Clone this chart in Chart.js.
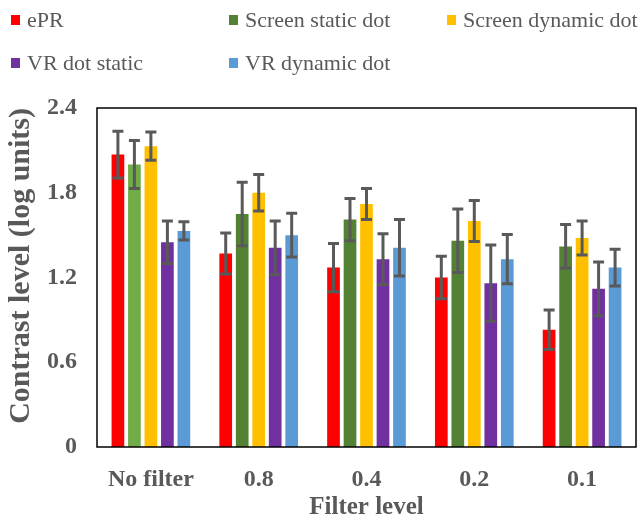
<!DOCTYPE html>
<html>
<head>
<meta charset="utf-8">
<script src="https://cdn.jsdelivr.net/npm/chart.js@4.4.1/dist/chart.umd.min.js"></script>
<style>
  html, body { margin: 0; padding: 0; background: #fff; }
  #wrap { position: relative; width: 642px; height: 518px; }
  canvas { position: absolute; left: 0; top: 0; }
  .lg { position: absolute; font-family: "Liberation Serif", "Times New Roman", serif; font-size: 22px; color: #595959; white-space: nowrap; line-height: 22px; }
  .sw { position: absolute; width: 9px; height: 10px; }
</style>
</head>
<body>
<div id="wrap">
  <canvas id="c" width="642" height="518"></canvas>
</div>
<script>
// ---- data ----
const categories = ["No filter", "0.8", "0.4", "0.2", "0.1"];
const seriesNames = ["ePR", "Screen static dot", "Screen dynamic dot", "VR dot static", "VR dynamic dot"];
const ePR = [2.07, 1.37, 1.27, 1.20, 0.83];
const screenStatic = [2.00, 1.65, 1.61, 1.46, 1.42];
const screenDynamic = [2.13, 1.80, 1.72, 1.60, 1.48];
const vrStatic = [1.45, 1.41, 1.33, 1.16, 1.12];
const vrDynamic = [1.53, 1.50, 1.41, 1.33, 1.27];
const ePRErr = [0.165, 0.145, 0.17, 0.15, 0.14];
const screenStaticErr = [0.17, 0.225, 0.15, 0.225, 0.155];
const screenDynamicErr = [0.10, 0.13, 0.11, 0.145, 0.12];
const vrStaticErr = [0.15, 0.19, 0.18, 0.27, 0.19];
const vrDynamicErr = [0.065, 0.155, 0.20, 0.175, 0.13];
const yTickLabels = ["0", "0.6", "1.2", "1.8", "2.4"];

const seriesValues = [ePR, screenStatic, screenDynamic, vrStatic, vrDynamic];
const seriesErrors = [ePRErr, screenStaticErr, screenDynamicErr, vrStaticErr, vrDynamicErr];
const legendColors = ["#FF0000", "#548235", "#FFC000", "#7030A0", "#5B9BD5"];
const barColors = [
  "#FF0000",
  ["#70AD47", "#548235", "#548235", "#548235", "#548235"],
  "#FFC000",
  "#7030A0",
  "#5B9BD5"
];

// ---- HTML legend ----
const wrap = document.getElementById('wrap');
const legendPos = [[10, 10], [228, 10], [446, 10], [10, 53], [228, 53]];
seriesNames.forEach((name, i) => {
  const [x, y] = legendPos[i];
  const sw = document.createElement('div');
  sw.className = 'sw';
  sw.style.left = (x + 1) + 'px';
  sw.style.top = (y + 5) + 'px';
  sw.style.background = legendColors[i];
  wrap.appendChild(sw);
  const t = document.createElement('div');
  t.className = 'lg';
  t.style.left = (x + 17) + 'px';
  t.style.top = (y - 1) + 'px';
  t.textContent = name;
  wrap.appendChild(t);
});

// ---- plugins ----
const errorBars = {
  id: 'errorBars',
  afterDatasetsDraw(chart) {
    const ctx = chart.ctx;
    const y = chart.scales.y;
    ctx.save();
    ctx.strokeStyle = '#595959';
    ctx.lineWidth = 3;
    chart.data.datasets.forEach((ds, di) => {
      const meta = chart.getDatasetMeta(di);
      meta.data.forEach((bar, i) => {
        const v = ds.data[i], e = seriesErrors[di][i];
        const x = bar.x;
        const yt = y.getPixelForValue(v + e);
        const yb = y.getPixelForValue(v - e);
        const hw = 5.5;
        ctx.beginPath();
        ctx.moveTo(x, yt); ctx.lineTo(x, yb);
        ctx.moveTo(x - hw, yt); ctx.lineTo(x + hw, yt);
        ctx.moveTo(x - hw, yb); ctx.lineTo(x + hw, yb);
        ctx.stroke();
      });
    });
    ctx.restore();
  }
};
const frame = {
  id: 'frame',
  afterDraw(chart) {
    const a = chart.chartArea, ctx = chart.ctx;
    ctx.save();
    ctx.strokeStyle = '#000';
    ctx.lineWidth = 1.5;
    ctx.strokeRect(a.left, a.top, a.right - a.left, a.bottom - a.top);
    ctx.restore();
  }
};

const font = "'Liberation Serif', 'Times New Roman', serif";

new Chart(document.getElementById('c'), {
  type: 'bar',
  data: {
    labels: categories,
    datasets: seriesNames.map((n, i) => ({
      label: n,
      data: seriesValues[i],
      backgroundColor: barColors[i],
      borderWidth: 0,
      categoryPercentage: 0.765,
      barPercentage: 0.77
    }))
  },
  options: {
    responsive: false,
    animation: false,
    devicePixelRatio: 1,
    layout: { padding: { top: 108, right: 6, left: 0, bottom: 0 } },
    plugins: { legend: { display: false }, tooltip: { enabled: false } },
    scales: {
      x: {
        grid: { display: false, drawTicks: false },
        border: { display: false },
        ticks: { color: '#595959', font: { family: font, size: 24, weight: 'bold' }, padding: 18 },
        title: { display: true, text: 'Filter level', color: '#595959', font: { family: font, size: 25, weight: 'bold' }, padding: { top: 0, bottom: -5 } },
        afterFit(s) { s.height = 71; }
      },
      y: {
        min: 0, max: 2.4,
        grid: { display: false, drawTicks: false },
        border: { display: false },
        ticks: {
          stepSize: 0.6,
          color: '#595959',
          font: { family: font, size: 24, weight: 'bold' },
          padding: 20,
          callback: (v, i) => yTickLabels[i]
        },
        title: { display: true, align: 'end', text: 'Contrast level (log units)', color: '#595959', font: { family: font, size: 30, weight: 'bold' }, padding: { top: 3, bottom: 0 } },
        afterFit(s) { s.width = 97; }
      }
    }
  },
  plugins: [errorBars, frame]
});
</script>
</body>
</html>
